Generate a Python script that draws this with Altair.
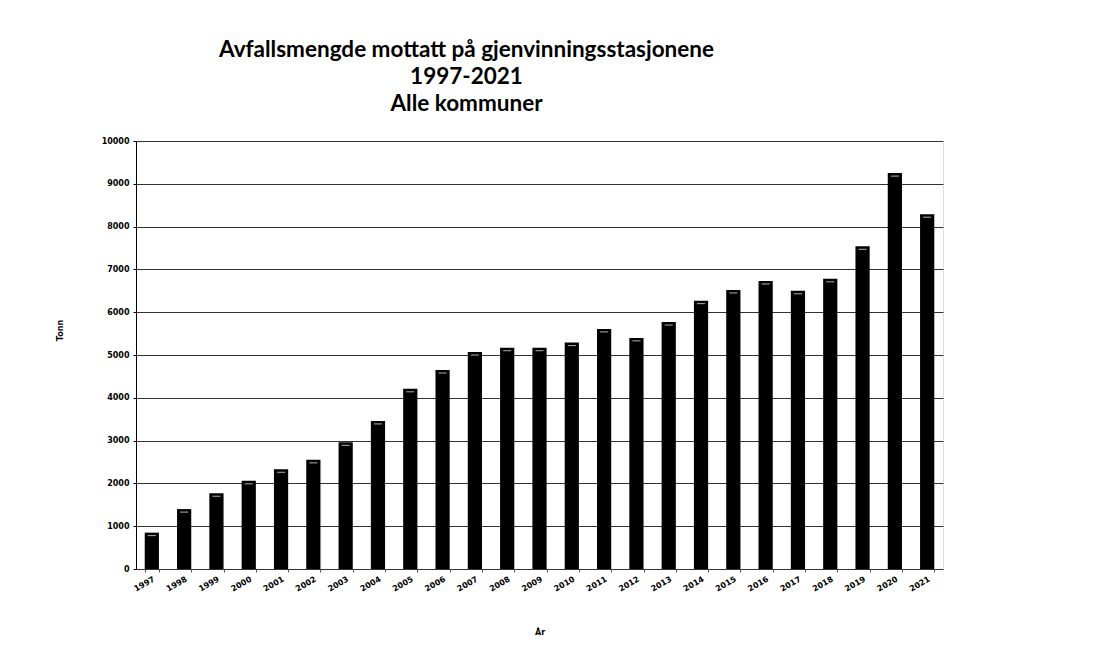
import altair as alt
import pandas as pd

years = [str(y) for y in range(1997, 2022)]
tonn = [850, 1400, 1770, 2060, 2330, 2550, 2960, 3460, 4210, 4650,
        5070, 5170, 5170, 5290, 5610, 5400, 5770, 6270, 6520, 6730,
        6500, 6780, 7540, 9250, 8290]

df = pd.DataFrame({"År": years, "Tonn": tonn})

title_lines = ["Avfallsmengde mottatt på gjenvinningsstasjonene", "1997-2021", "Alle kommuner"]

base = alt.Chart(df)

bars = base.mark_bar(color="black").encode(
    x=alt.X("År:N", sort=None, title="År",
            scale=alt.Scale(paddingInner=0.56, paddingOuter=0.27),
            axis=alt.Axis(labelAngle=330, labelAlign="right", labelBaseline="top",
                          labelFont="DejaVu Sans", labelFontWeight="bold", labelFontSize=8,
                          labelColor="black", labelPadding=3,
                          domain=False, ticks=True, tickColor="#555555", tickSize=3,
                          tickBand="extent",
                          titleFont="DejaVu Sans", titleFontWeight="bold", titleFontSize=8,
                          titleColor="black", titleY=63, titleBaseline="middle")),
    y=alt.Y("Tonn:Q", title="Tonn",
            scale=alt.Scale(domain=[0, 10000], nice=False),
            axis=alt.Axis(values=list(range(0, 10001, 1000)), format="d",
                          labelFont="DejaVu Sans", labelFontWeight="bold", labelFontSize=8,
                          labelColor="black", labelPadding=4,
                          domainColor="black", tickColor="black", tickSize=3,
                          grid=True, gridColor="#333333", gridWidth=1,
                          titleFont="DejaVu Sans", titleFontWeight="bold", titleFontSize=8,
                          titleColor="black", titleX=-76, titleY=189, titleAngle=270,
                          titleBaseline="middle", titleAlign="center")),
)

highlight = base.mark_tick(color="white", thickness=1, size=8, yOffset=3).encode(
    x=alt.X("År:N", sort=None),
    y=alt.Y("Tonn:Q"),
)

chart = (bars + highlight).properties(
    width=807, height=428,
    title=alt.TitleParams(text=title_lines, anchor="middle", dx=-73, dy=3,
                          font="Lato", fontSize=22.5, fontWeight="bold",
                          color="black", lineHeight=27, baseline="bottom", offset=2),
    autosize=alt.AutoSizeParams(type="none"),
    padding={"left": 128, "top": 133, "right": 140, "bottom": 75},
).configure_view(stroke=None).configure(background="white")

chart.save("out.html", embed_options={"renderer": "svg", "actions": False})
